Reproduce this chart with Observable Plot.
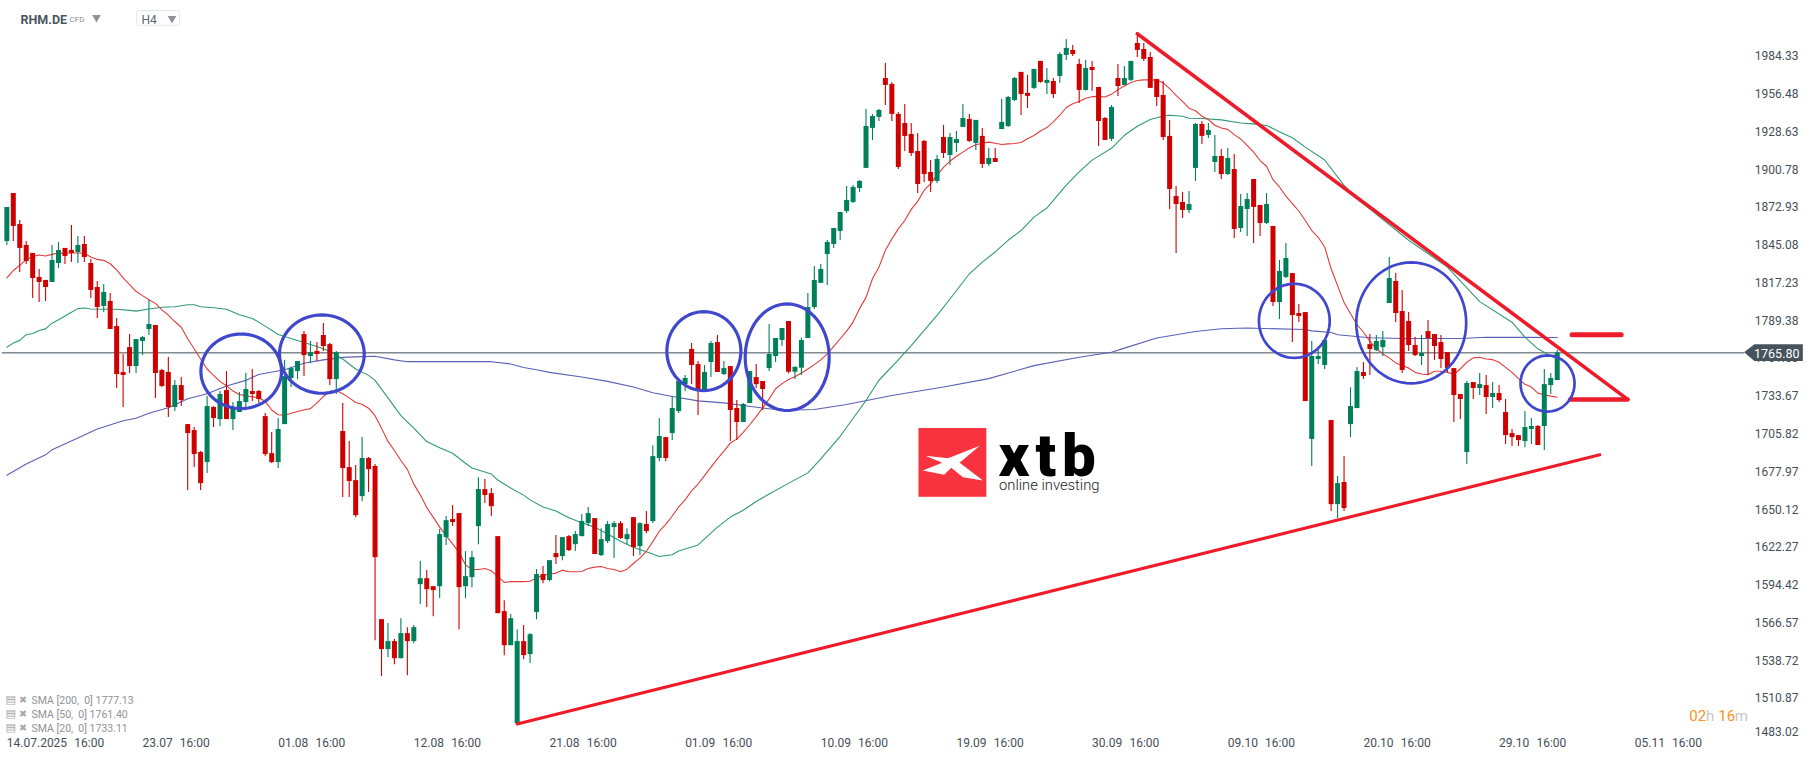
<!DOCTYPE html>
<html><head><meta charset="utf-8">
<script src="https://cdn.jsdelivr.net/npm/d3@7"></script>
<script src="https://cdn.jsdelivr.net/npm/@observablehq/plot@0.6"></script>
<style>html,body{margin:0;padding:0;background:#fff}svg{display:block}</style>
</head><body>
<script>
const open = [1847.9,1883.3,1860.4,1845.0,1839.1,1821.4,1819.2,1817.7,1831.7,1842.8,1841.3,1839.8,1845.7,1831.7,1814.0,1800.0,1803.7,1785.2,1751.3,1769.7,1755.7,1774.2,1783.0,1786.0,1752.8,1751.3,1725.5,1741.7,1712.9,1708.5,1692.3,1684.9,1725.5,1716.6,1738.0,1716.6,1721.8,1729.2,1737.3,1737.3,
1718.8,1691.5,1684.9,1712.9,1746.9,1752.0,1779.3,1763.1,1766.8,1778.6,1771.9,1746.1,1707.8,1681.2,1671.6,1659.8,1687.9,1682.0,1569.1,1547.0,1552.9,1540.3,1558.8,1552.9,1594.9,1599.3,1593.4,1593.4,1629.6,1642.9,1647.3,1593.4,1600.1,1637.7,1665.0,1662.0,1630.3,1575.0,1549.9,1492.4,1552.9,
1543.3,1574.3,1602.3,1597.9,1617.8,1615.6,1630.3,1624.4,1630.3,1639.9,1643.6,1616.3,1626.6,1637.0,1639.9,1628.1,1644.3,1622.9,1639.2,1641.4,1687.9,1703.3,1706.3,1722.5,1742.4,1768.3,1757.2,1738.0,1758.7,1773.4,1749.8,1755.7,1724.8,1714.4,1728.4,1747.6,1744.7,1754.2,1763.1,1774.9,
1788.9,1751.5,1754.5,1776.4,1799.2,1817.0,1838.3,1845.7,1855.3,1870.0,1876.7,1887.0,1901.8,1931.3,1939.4,1968.1,1963.7,1941.6,1934.9,1926.8,1914.3,1921.7,1898.8,1892.2,1924.6,1911.3,1920.2,1932.0,1937.9,1920.2,1925.4,1904.7,1909.1,1930.5,1932.7,1951.9,1972.6,1957.1,1960.8,1980.7,
1964.5,1965.9,1969.6,1985.1,1988.8,1978.5,1959.3,1976.2,1961.5,1938.6,1923.2,1968.1,1963.0,1966.7,1993.9,1989.5,1983.6,1967.4,1955.6,1925.4,1881.1,1876.7,1870.8,1901.8,1934.2,1926.1,1906.2,1910.6,1897.3,1901.0,1857.5,1871.5,1893.6,1874.5,1861.2,1859.0,1802.9,1821.4,1824.3,1794.8,
1795.5,1701.9,1760.9,1756.5,1715.9,1653.9,1670.2,1712.9,1724.7,1751.3,1771.9,1767.5,1769.7,1802.2,1818.4,1796.3,1788.9,1771.2,1763.1,1781.5,1779.3,1773.4,1766.0,1754.2,1735.1,1692.3,1743.9,1739.5,1741.7,1732.9,1735.8,1721.8,1706.3,1704.8,1700.4,1709.3,1711.5,1711.5,1741.7,1745.4];
const high = [1873.0,1883.3,1863.4,1847.9,1839.1,1827.3,1819.2,1845.0,1847.2,1842.8,1859.7,1851.6,1851.6,1834.6,1818.4,1816.2,1809.6,1791.1,1764.6,1779.3,1775.6,1777.8,1804.4,1786.0,1753.5,1762.4,1745.4,1747.6,1712.9,1710.7,1693.0,1733.6,1726.2,1737.3,1752.0,1729.2,1736.5,1750.6,1753.5,1738.0,
1721.0,1707.0,1717.4,1760.1,1755.2,1759.4,1781.5,1774.2,1773.4,1787.4,1772.7,1766.8,1728.4,1700.4,1682.7,1703.3,1688.6,1683.4,1569.1,1566.2,1554.4,1569.8,1563.2,1564.7,1611.9,1605.3,1593.4,1635.5,1645.1,1653.2,1647.3,1619.3,1619.3,1673.8,1672.4,1665.7,1630.3,1583.1,1572.8,1561.7,1564.7,
1558.8,1606.0,1608.2,1612.6,1631.1,1629.6,1631.1,1634.0,1646.6,1651.7,1643.6,1636.2,1641.4,1641.4,1641.4,1636.2,1644.3,1640.6,1648.8,1697.4,1717.4,1703.3,1733.6,1744.7,1749.1,1772.7,1759.4,1756.5,1774.2,1778.6,1759.4,1755.7,1730.6,1728.4,1752.0,1757.2,1744.7,1786.7,1776.4,1783.8,
1788.9,1755.2,1776.8,1809.6,1829.5,1831.0,1848.7,1857.5,1869.3,1888.5,1889.2,1892.9,1945.3,1941.6,1945.3,1979.2,1965.2,1943.1,1949.0,1934.9,1927.6,1922.4,1907.7,1911.3,1933.5,1927.6,1929.1,1949.0,1941.6,1937.2,1931.3,1916.5,1916.5,1952.7,1954.9,1968.9,1972.6,1970.4,1974.8,1980.7,
1975.5,1968.1,1987.3,1996.9,1992.5,1982.2,1981.4,1980.7,1961.5,1939.4,1948.2,1978.5,1977.0,1980.7,2001.3,1993.9,1987.3,1967.4,1965.9,1937.2,1888.5,1884.1,1884.8,1934.9,1936.4,1934.9,1926.1,1915.8,1916.5,1912.1,1882.6,1883.3,1893.6,1874.5,1883.3,1859.0,1833.9,1846.4,1824.3,1801.4,
1795.5,1774.2,1769.0,1774.9,1715.9,1674.6,1689.3,1740.0,1755.0,1758.7,1779.3,1778.6,1781.5,1836.1,1824.3,1811.8,1795.5,1777.1,1778.6,1789.7,1779.3,1778.6,1766.0,1754.2,1735.1,1744.7,1743.9,1750.6,1749.1,1743.9,1741.7,1731.4,1709.3,1704.8,1722.5,1717.4,1712.2,1753.5,1750.6,1767.5];
const low = [1845.0,1847.9,1825.0,1830.9,1805.9,1802.9,1803.7,1817.7,1828.0,1830.9,1832.4,1831.7,1832.4,1805.9,1791.1,1795.6,1783.0,1739.5,1725.5,1750.6,1750.6,1763.8,1778.6,1732.1,1740.2,1718.1,1722.5,1726.2,1664.3,1681.2,1664.3,1676.8,1710.7,1711.5,1716.6,1708.5,1721.8,1723.2,1729.9,1728.4,
1689.3,1684.2,1680.5,1712.9,1740.2,1746.1,1748.3,1757.9,1759.4,1766.8,1741.7,1735.1,1659.1,1659.1,1644.3,1656.1,1662.8,1553.6,1527.1,1541.1,1535.9,1540.3,1527.8,1551.4,1580.2,1578.0,1571.3,1584.6,1623.7,1637.7,1561.7,1584.6,1592.7,1624.4,1654.7,1645.1,1573.5,1542.5,1549.9,1492.4,1539.6,
1536.7,1569.1,1595.6,1597.1,1609.7,1612.6,1619.3,1619.3,1630.3,1637.7,1617.1,1615.6,1625.2,1614.1,1628.1,1624.4,1615.6,1616.3,1632.5,1639.9,1685.6,1685.6,1701.1,1721.0,1737.3,1742.4,1719.6,1738.0,1747.6,1751.3,1749.1,1700.4,1701.1,1714.4,1728.4,1739.5,1723.3,1752.0,1758.7,1770.5,
1750.3,1746.1,1749.1,1776.4,1797.8,1817.0,1815.5,1842.8,1848.7,1868.6,1875.9,1884.1,1901.8,1922.4,1936.4,1948.2,1936.4,1901.0,1914.3,1910.6,1883.3,1891.4,1884.1,1890.7,1909.1,1904.0,1913.6,1932.0,1920.9,1915.0,1901.8,1903.2,1906.2,1930.5,1932.0,1951.2,1940.8,1946.0,1960.0,1964.5,
1956.3,1953.4,1964.5,1981.4,1984.4,1949.7,1958.6,1958.6,1918.0,1922.4,1921.7,1954.9,1963.0,1965.9,1983.6,1980.7,1960.8,1947.5,1922.4,1871.5,1839.1,1864.9,1868.6,1892.2,1919.4,1923.9,1898.8,1893.6,1896.6,1850.1,1854.6,1851.6,1846.4,1851.6,1860.4,1799.9,1790.4,1820.6,1773.4,1788.2,
1729.9,1682.0,1757.2,1753.5,1648.8,1643.6,1648.8,1703.3,1724.7,1746.1,1749.1,1766.8,1763.1,1802.2,1788.2,1750.6,1766.8,1763.1,1756.5,1749.1,1760.1,1754.2,1751.3,1714.4,1716.6,1683.4,1731.4,1734.3,1720.3,1724.7,1729.2,1698.2,1696.7,1696.7,1695.9,1698.2,1697.5,1693.8,1735.1,1745.4];
const close = [1873.0,1859.0,1842.8,1833.2,1820.6,1817.7,1814.0,1833.9,1841.3,1836.9,1839.1,1845.0,1836.1,1811.8,1799.2,1810.3,1783.0,1749.8,1749.1,1755.7,1775.6,1777.1,1786.7,1750.6,1741.0,1725.5,1741.7,1730.6,1706.3,1690.8,1669.4,1726.2,1717.4,1735.1,1716.6,1724.7,1729.9,1738.8,1735.1,1731.4,
1690.8,1684.9,1709.3,1748.3,1754.2,1759.4,1763.8,1766.0,1764.6,1770.5,1746.1,1766.0,1680.5,1670.9,1645.8,1687.9,1679.7,1614.8,1547.0,1552.9,1540.3,1558.8,1552.9,1563.2,1599.3,1591.2,1590.5,1631.8,1642.1,1640.7,1592.7,1600.8,1614.8,1665.0,1660.6,1652.4,1573.5,1549.9,1569.8,1552.9,1542.6,
1558.0,1602.3,1597.9,1612.6,1614.8,1629.6,1620.0,1631.8,1641.4,1647.3,1617.1,1628.1,1639.2,1639.9,1628.9,1631.8,1622.2,1639.9,1634.0,1689.3,1704.1,1687.9,1724.8,1744.7,1746.9,1756.5,1738.8,1751.3,1772.7,1751.3,1754.2,1723.3,1714.4,1727.7,1752.0,1742.4,1738.8,1764.6,1776.4,1783.8,
1751.5,1755.2,1774.9,1799.2,1819.2,1827.3,1847.2,1857.5,1869.3,1878.2,1887.7,1892.2,1932.7,1940.1,1944.5,1963.0,1941.6,1902.5,1925.4,1912.8,1889.9,1897.3,1892.2,1908.4,1912.8,1924.6,1923.1,1938.6,1921.7,1937.2,1904.7,1909.1,1906.2,1935.7,1954.1,1968.1,1956.3,1954.9,1974.8,1965.2,
1966.7,1956.3,1985.8,1990.3,1985.8,1959.3,1975.5,1974.0,1936.4,1922.4,1946.7,1962.2,1968.1,1980.7,1988.8,1982.2,1960.8,1954.1,1924.6,1886.3,1875.2,1870.8,1875.2,1934.2,1925.4,1929.8,1910.6,1897.3,1909.1,1856.8,1873.7,1878.9,1873.0,1861.2,1875.2,1802.9,1825.8,1835.4,1793.3,1792.6,
1729.9,1763.1,1763.1,1774.9,1653.9,1669.4,1651.0,1726.2,1752.0,1748.3,1768.3,1774.2,1774.9,1820.6,1794.8,1752.8,1771.2,1763.8,1765.3,1776.4,1770.5,1760.9,1754.2,1734.3,1731.4,1743.2,1739.5,1742.4,1732.9,1735.8,1730.6,1704.8,1703.3,1701.1,1710.7,1711.5,1697.5,1742.4,1746.9,1765.8];

const sma20 = [1821.1,1826.5,1830.3,1834.5,1836.9,1837.9,1837.2,1838.4,1839.4,1839.2,1839.4,1839.4,1839.2,1836.5,1834.7,1834.0,1831.5,1827.0,1821.1,1816.1,1811.2,1808.0,1805.0,1802.3,1797.5,1793.6,1788.9,1784.7,1776.2,1768.8,1761.3,1753.9,1749.2,1744.8,1741.6,1737.6,1735.1,1734.1,1733.4,1732.7,
1730.2,1723.7,1720.2,1719.8,1721.3,1722.5,1723.7,1724.7,1728.9,1733.6,1737.3,1738.1,1735.6,1732.6,1729.2,1727.9,1725.0,1719.5,1710.3,1700.5,1693.8,1686.4,1679.9,1669.0,1661.1,1651.7,1644.7,1637.3,1631.1,1624.9,1618.7,1609.5,1606.1,1606.1,1606.8,1605.1,1600.8,1596.6,1597.1,1597.1,1597.1,
1597.4,1599.9,1601.9,1602.6,1603.4,1605.6,1604.4,1604.4,1604.6,1606.8,1607.8,1608.3,1606.8,1606.1,1604.4,1606.3,1610.5,1614.5,1619.5,1626.6,1634.3,1639.3,1645.5,1652.2,1657.4,1664.1,1669.1,1675.3,1681.5,1687.6,1693.3,1699.3,1702.2,1707.1,1712.8,1718.8,1725.2,1731.9,1739.3,1743.1,
1746.1,1748.2,1751,1753.9,1757.1,1760.6,1765,1770.5,1776.2,1781.8,1788.5,1798.4,1806.7,1820.4,1829,1841.4,1849.7,1857.2,1863.4,1871.6,1877.5,1885.7,1890.6,1896.8,1902.6,1907.1,1910.8,1913.8,1917,1919.2,1920.4,1921.2,1920.4,1919.4,1919.9,1920.2,1920.9,1923.7,1926.1,1929.4,
1931.9,1936.1,1941,1946.7,1949.5,1951.2,1953.5,1954.7,1954.9,1954.4,1956.4,1959.9,1962.6,1965.1,1966.6,1967.1,1967.1,1966.8,1964.9,1960.6,1955.7,1951.2,1946.2,1944.3,1940.3,1937.8,1933.6,1931.6,1930.6,1926.7,1923.5,1918.8,1913.8,1907.6,1903.4,1893.5,1888.1,1881.3,1875.8,1870.4,
1863.4,1856,1851,1843.9,1827.8,1815.4,1803,1794.6,1786.7,1781,1774.5,1768.8,1765,1762.1,1758.4,1756.4,1754.6,1751.4,1750.2,1749.7,1752.2,1752.2,1751.4,1750,1753.9,1758.9,1762.1,1762.6,1761.3,1760.8,1758.9,1755.1,1751.4,1746.8,1742.6,1740.6,1736.1,1734.9,1733.9,1733.1];

// [candle number, value] pairs
const sma50 = [[0,1770],[1,1773],[2,1775],[3,1779.2],[4,1780.1],[5,1782.3],[6,1783.5],[7,1787.7],[8,1790.2],[9,1792.9],[10,1795.7],[11,1798.4],[12,1798.9],[13,1798.1],[15,1797.9],[17,1797.9],[19,1797.1],[20,1796.6],[22,1798.1],[24,1799.4],[26,1799.8],[28,1801.3],[29,1801.3],[30,1799.8],[32,1799.1],[34,1797.9],[36,1793.9],[38,1791.2],[40,1785.5],
[42,1779.3],[45,1774.9],[48,1770.5],[50,1767],[52,1761.3],[54,1753.9],[56,1749.2],[57,1745.5],[59,1732.6],[61,1719.5],[63,1710.3],[65,1700.4],[67,1695.8],[69,1691.8],[71,1684.4],[72,1680.9],[75,1676.5],[76,1672],[78,1666.1],[80,1660.9],
[81,1657.4],[83,1652.2],[85,1649.2],[87,1644.2],[89,1640.5],[91,1637.3],[93,1632.3],[95,1626.9],[97,1622.4],[99,1619.2],[101,1615.7],[103,1617],[104,1619.7],[107,1624.2],[110,1637.3],[112,1644.7],[114,1649.7],[116,1656.2],[118,1661.7],[120,1667],
[124,1677.3],[126,1687.6],[129,1704.3],[133,1730.7],[135,1745.6],[138,1760.6],[140,1771.2],[142,1782.3],[144,1793.4],[146,1805.5],[149,1824.1],[151,1832.7],[153,1840.2],[155,1848.8],[157,1856],[159,1865.9],[161,1872.6],[162,1878.3],[164,1889.4],[166,1899.2],[168,1907.9],[171,1916.6],[173,1926.2],[175,1932.9],[177,1937.8],[179,1940.5],[180,1941],[182,1940.3],[183,1938.8],[185,1938.6],[188,1937.6],[191,1935.3],[193,1934.6],[195,1933.4],[197,1928.9],[199,1924.4],[201,1917.5],[204,1908],[207,1889.3],[209,1879.5],[217,1848.8],[223,1829],[228,1803.6],[233,1788.4],[235,1777.4],[237,1768.8],[239,1763.5],[240,1761.4]];
const sma200 = [[0,1675.5],[3,1683.9],[6,1690.6],[7,1694.3],[11,1703],[14,1709.6],[18,1715.8],[20,1717.6],[22,1721.3],[25,1725.3],[28,1731.9],[31,1735.6],[34,1741.3],[37,1745.5],[39,1749.9],[43,1753.4],[46,1758.1],[49,1760.6],[52,1762.5],[55,1763],[57,1763.3],[60,1760.6],[62,1759.3],[75,1759.3],[78,1757.6],[80,1755],[82,1753.4],[84,1751.4],[89,1748],[93,1744.8],[97,1740.6],[100,1736.4],[103,1733.6],[107,1730.4],[111,1728.9],[114,1727],[117,1725.2],[120,1723.5],[125,1724],[130,1727.7],[137,1734.4],[145,1740.6],[152,1746.8],[159,1756.4],[166,1762.6],[171,1766.3],[173,1769.3],[178,1776.7],[184,1781.6],[188,1783.6],[192,1784.1],[201,1783],[202,1782],[205,1780.8],[206,1779.2],[211,1776.9],[216,1776.4],[225,1776.4],[229,1777.3],[240,1777.1]];

const lastPrice = 1765.8;
const priceTicks = [1984.33,1956.48,1928.63,1900.78,1872.93,1845.08,1817.23,1789.38,1761.53,1733.67,1705.82,1677.97,1650.12,1622.27,1594.42,1566.57,1538.72,1510.87];
const bottomPriceTick = [1483.02];
const dateTicks = [0,21,42,63,84,105,126,147,168,189,210,231,252];
const dateLabels = ["14.07.2025","23.07","01.08","12.08","21.08","01.09","10.09","19.09","30.09","09.10","20.10","29.10","05.11"];
const legendRows = ["SMA [200,\u00a0\u00a00] 1777.13","SMA [50,\u00a0\u00a00] 1761.40","SMA [20,\u00a0\u00a00] 1733.11"];

// hand-drawn annotations, in [candle number, price]
const trendUp = [[79,1492.2],[246.6,1690.6]];
const trendDown = [[175,2001.1],[250.8,1731.9]];
const flatLow = [[242,1731.4],[250.9,1731.4]];
const flatHigh = [[242.3,1779.1],[249.9,1779.1]];
const circles = [[36.28,1752.2,6.24,27.5],[48.77,1764.9,6.56,28.9],[107.9,1767.1,5.73,29.1],[120.8,1762.6,6.5,39.3],[199.3,1789.4,5.48,27.3],[217.4,1787.9,8.51,44.6],[238.5,1743.2,4.18,20.7]];
const logoSquare = {x1:141.2,x2:151.7,y1:1659.3,y2:1710};
const logoCross = [[142.2,1690.0],[145.7,1688.1],[150.6,1697.4],[147.5,1684.7],[151.1,1671.6],[148.0,1674.0],[146.2,1681.0],[145.1,1676.0],[141.8,1679.0],[144.8,1684.7],[142.2,1690.0]];
const priceTag = [{x:269,y1:lastPrice,y2:lastPrice},{x:270.6,y1:1771.7,y2:1759.4},{x:278.1,y1:1771.7,y2:1759.4}];
const h4Box = {x1:20.17,x2:26.8,y1:2007,y2:2017.8};

const idx = d3.range(open.length);
const ups = idx.filter(i => close[i] >= open[i]);
const downs = idx.filter(i => close[i] < open[i]);
const RED = "#cf0000", GREEN = "#00805a", TREND = "#ee1c2b", BLUE = "#3f48cc";
const ellipse = (c, n) => d3.range(0, 73).map(k => {
  const a = k / 72 * 2 * Math.PI;
  return {n, x: c[0] + c[2] * Math.cos(a), y: c[1] + c[3] * Math.sin(a)};
});
const wicks = (ids, color) => Plot.ruleX(ids, {x: i => i, y1: i => low[i], y2: i => high[i], stroke: color, strokeWidth: 1.1});
const bodies = (ids, color) => Plot.ruleX(ids, {x: i => i, y1: i => open[i], y2: i => close[i], stroke: color, strokeWidth: 5});
const label = (t, dx, dy, o = {}) => Plot.text([t], {frameAnchor: "top-left", dx, dy, textAnchor: "start", lineAnchor: "middle", fontFamily: "Roboto", fontSize: 12, ...o});
const arrow = (dx, dy) => Plot.dot([0], {frameAnchor: "top-left", dx, dy, symbol: "triangle", rotate: 180, r: 3.2, fill: "#8e9499"});

const chart = Plot.plot({
  width: 1815, height: 761,
  marginTop: 0, marginLeft: 0, marginRight: 0, marginBottom: 10,
  style: {fontFamily: "Roboto", background: "#fff"},
  x: {type: "linear", domain: [-0.98, 279.98], range: [0, 1815]},
  y: {type: "linear", domain: [1464.5, 2025.6], range: [761, 0]},
  marks: [
    Plot.axisY(priceTicks, {anchor: "right", tickSize: 0, tickPadding: -17, textAnchor: "end", label: null, tickFormat: d => d.toFixed(2), fontSize: 12, fill: "#454f58"}),
    Plot.axisY(bottomPriceTick, {anchor: "right", tickSize: 0, tickPadding: -17, textAnchor: "end", label: null, dy: -4, tickFormat: d => d.toFixed(2), fontSize: 12, fill: "#454f58"}),
    Plot.axisX(dateTicks, {anchor: "bottom", tickSize: 0, tickPadding: -13, textAnchor: "start", label: null, fontSize: 12, fill: "#454f58",
      tickFormat: d => dateLabels[dateTicks.indexOf(d)] + "\u00a0\u00a0\u200a16:00"}),

    Plot.rect([logoSquare], {x1: "x1", x2: "x2", y1: "y1", y2: "y2", fill: "#f93240"}),
    Plot.line(logoCross, {fill: "#fff", stroke: "none"}),
    Plot.text(["xtb"], {frameAnchor: "top-left", dx: 998, dy: 456, textAnchor: "start", lineAnchor: "middle", fontFamily: "Roboto", fontWeight: 900, fontSize: 60, fill: "#000"}),
    Plot.text(["online investing"], {frameAnchor: "top-left", dx: 998.5, dy: 485, textAnchor: "start", lineAnchor: "middle", fontFamily: "Roboto", fontWeight: 300, fontSize: 14.8, fill: "#222"}),

    Plot.ruleY([lastPrice], {x1: -0.7, x2: 269, stroke: "#3f4d57", strokeWidth: 1}),
    Plot.line(sma200, {stroke: "#5a60b8", strokeWidth: 1.1}),
    Plot.line(sma50, {stroke: "#2f9a76", strokeWidth: 1.1}),
    Plot.line(sma20.map((v, i) => [i, v]), {stroke: "#e23b3b", strokeWidth: 1.1}),
    wicks(ups, GREEN), wicks(downs, RED), bodies(ups, GREEN), bodies(downs, RED),

    Plot.line(trendUp, {stroke: TREND, strokeWidth: 3.1}),
    Plot.line(trendDown, {stroke: TREND, strokeWidth: 3.6}),
    Plot.line(flatLow, {stroke: TREND, strokeWidth: 4.6}),
    Plot.line(flatHigh, {stroke: TREND, strokeWidth: 5, strokeLinecap: "round"}),
    Plot.line(circles.slice(0, 4).flatMap(ellipse), {x: "x", y: "y", z: "n", stroke: BLUE, strokeWidth: 3.2}),
    Plot.line(circles.slice(4).flatMap((c, n) => ellipse(c, n)), {x: "x", y: "y", z: "n", stroke: BLUE, strokeWidth: 2.7}),

    Plot.areaY(priceTag, {x: "x", y1: "y1", y2: "y2", fill: "#46535d"}),
    Plot.text(["1765.80"], {x: 277.5, y: lastPrice, dy: 1, textAnchor: "end", fontFamily: "Roboto", fontSize: 12.5, fill: "#fff"}),

    label("RHM.DE", 20, 19, {fontWeight: 700, fontSize: 12.5, fill: "#4b5660"}),
    label("CFD", 69, 19, {fontSize: 8, fill: "#8a8f94"}),
    arrow(96, 17),
    Plot.rect([h4Box], {x1: "x1", x2: "x2", y1: "y1", y2: "y2", fill: "#fff", stroke: "#e4e6e8", rx: 2}),
    label("H4", 141, 19.5, {fill: "#5a6670"}),
    arrow(171.5, 18),

    ...legendRows.flatMap((t, k) => {
      const dy = 700 + k * 14;
      return [
        label("\u25a4", 5, dy - 1, {fontFamily: "DejaVu Sans", fontSize: 11, fill: "#a8a8a8"}),
        label("\u2716", 18.5, dy - 1, {fontFamily: "DejaVu Sans", fontSize: 9.5, fill: "#a8a8a8"}),
        label(t, 31, dy, {fontSize: 10.5, fill: "#8f9296"})
      ];
    }),

    label("02", 1688.7, 716, {fontSize: 15, fill: "#f7941d"}),
    label("h", 1705.4, 716, {fontSize: 15, fill: "#c6c6c6"}),
    label("16", 1717.8, 716, {fontSize: 15, fill: "#f7941d"}),
    label("m", 1734.2, 716, {fontSize: 15, fill: "#c6c6c6"})
  ]
});
d3.select(chart).selectAll("text").filter(function () { return this.textContent === "xtb"; }).style("letter-spacing", "6px");
document.body.appendChild(chart);
</script>
</body></html>
